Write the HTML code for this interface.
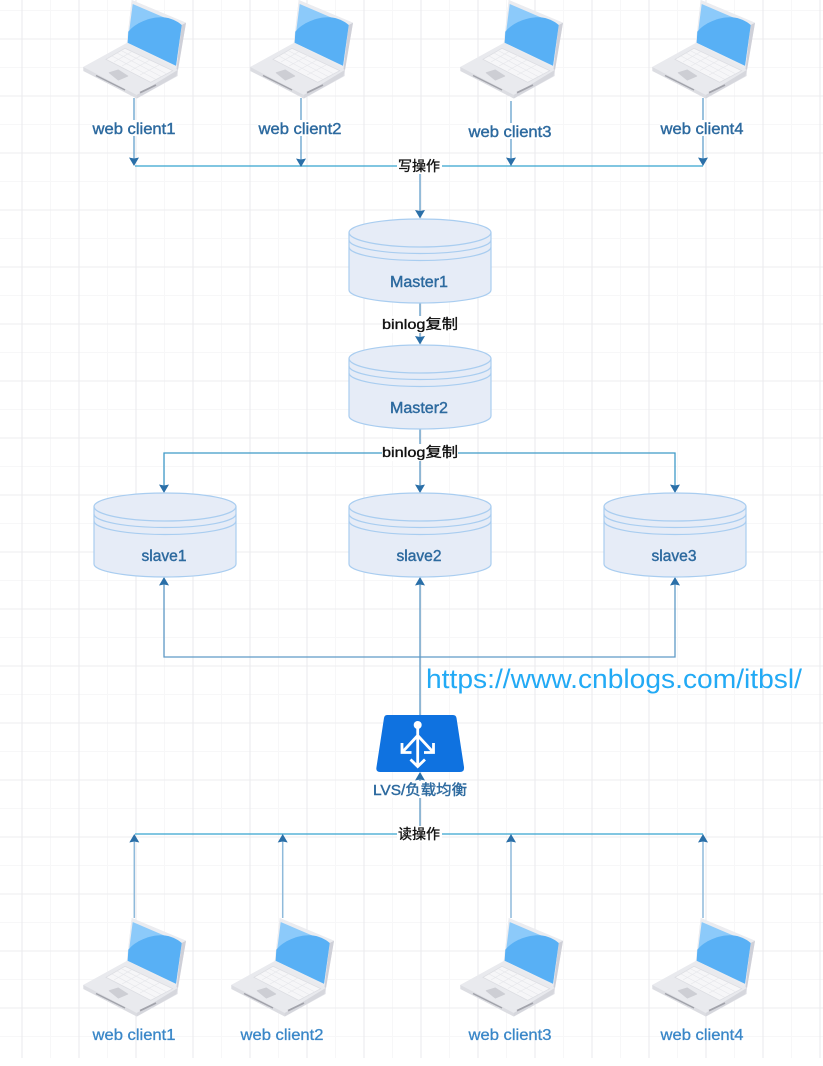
<!DOCTYPE html>
<html><head><meta charset="utf-8">
<style>html,body{margin:0;padding:0;background:#fff}svg{display:block}
text{font-family:"Liberation Sans","Noto Sans CJK SC",sans-serif}
.l{fill:#2d6a9f;font-size:15.5px;text-anchor:middle;stroke:#2d6a9f;stroke-width:.4}
.b{fill:#3a87c8;font-size:15.5px;text-anchor:middle;stroke:#3a87c8;stroke-width:.3}
.k{fill:#111;font-size:14px;text-anchor:middle;stroke:#111;stroke-width:.35}
</style></head><body>
<svg width="823" height="1066" viewBox="0 0 823 1066" xmlns="http://www.w3.org/2000/svg">
<defs>
<pattern id="g" x="21.500" y="38.500" width="57" height="57" patternUnits="userSpaceOnUse">
<path d="M29 0V57M0 29H57" stroke="#f7f7f8" stroke-width="1" fill="none"/>
<path d="M.5 0V57" stroke="#e9e9ec" stroke-width="1" fill="none"/>
<path d="M0 .5H57" stroke="#ececef" stroke-width="1" fill="none"/>
</pattern>
<g id="lap">
<path d="M83.300 67L127 43 131.700 0 186 22.700 178 68 177.700 76 137 98.500 83.300 71Z" fill="#e4e5ea"/>
<path d="M131.700 0L186 22.700 178 70 126.700 43Z" fill="#ebecf0"/>
<path d="M186 22.700L178 70 176.500 69 181.700 25Z" fill="#cfd0d8"/>
<path d="M132.700 4L181.700 25 176 65.700 127.700 42.700Z" fill="#8ccafa"/>
<path d="M128.300 31.700C136 22 152 16.500 163 17.300C171 18 177 21 181.700 25L176 65.700 127.700 42.700Z" fill="#58b0f5"/>
<path d="M83.300 67L126.700 43 177.700 70 136.700 95Z" fill="#e9eaee"/>
<path d="M83.300 67L136.700 95 136.700 98.500 83.500 71Z" fill="#dcdde2"/>
<path d="M136.700 95L177.700 70 176.500 76 136.700 98.500Z" fill="#d6d7dd"/>
<path d="M106 59.300L125 48.300 172.700 70.700 150.700 82.300Z" fill="#f6f6f8" stroke="#dcdde2" stroke-width=".8"/>
<path d="M112 56L156 79.500M117 53L161 76.500M121 50.500L166 73.500M114 62L132 51.500M122 66L141 55.500M131 70.500L150 60M140 75L159 65" stroke="#e6e7eb" stroke-width=".7" fill="none"/>
<path d="M109.300 72.700L118.300 70 127.700 76 118.300 80Z" fill="#cdced4" stroke="#cdced4" stroke-width="1" stroke-linejoin="round"/>
<path d="M96 75.500L125 90" stroke="#a2a3ab" stroke-width="1.500"/>
<path d="M140 92.700L156 85" stroke="#a2a3ab" stroke-width="1.800"/>
</g>
<g id="cyl">
<path d="M0 13.500A71 13.500 0 0 1 142 13.500V71A71 13 0 0 1 0 71Z" fill="#e6ecf7" stroke="#a9cdf0" stroke-width="1.200"/>
<path d="M0 13.500A71 14.500 0 0 0 142 13.500M0 21A71 13.500 0 0 0 142 21M0 28A71 13.500 0 0 0 142 28" fill="none" stroke="#a9cdf0" stroke-width="1.200"/>
</g>
<path id="ad" d="M-5 -8.500L0 -7.500 5 -8.500 0 0Z" fill="#2a6fa8"/>
<path id="au" d="M-5 8.500L0 7.500 5 8.500 0 0Z" fill="#2a6fa8"/>
</defs>
<rect x="0" y="0" width="823" height="1058" fill="url(#g)"/>

<g fill="none">
<path d="M134 98V160M301 98V160M511 101V160M703 98V160M420 166V212" stroke="#6fa7d0" stroke-width="1.400"/>
<path d="M135 166H703M135 834H703" stroke="#36a5cf" stroke-width="1.300"/>
<path d="M420 302V338M420 426V487" stroke="#5f9ac6" stroke-width="1.300"/>
<path d="M164 487V453H675V487" stroke="#3f9ac8" stroke-width="1.300"/>
<path d="M164 583V657H675V583M420 583V716" stroke="#5f9ac6" stroke-width="1.300"/>
<path d="M420 778V834" stroke="#5f9ac6" stroke-width="1.300"/>
<path d="M134.300 918V840M282.700 918V840M511 918V840M703 918V840" stroke="#8fbadb" stroke-width="1.500"/>
</g>
<use href="#ad" x="134" y="166"/><use href="#ad" x="301" y="167"/><use href="#ad" x="511" y="166"/><use href="#ad" x="703" y="166"/>
<use href="#ad" x="420" y="218.500"/><use href="#ad" x="420" y="344.500"/>
<use href="#ad" x="164" y="493"/><use href="#ad" x="420" y="493"/><use href="#ad" x="675" y="493"/>
<use href="#au" x="164" y="577"/><use href="#au" x="420" y="577"/><use href="#au" x="675" y="577"/>
<use href="#au" x="420" y="772"/>
<use href="#au" x="134.300" y="834"/><use href="#au" x="282.700" y="834"/><use href="#au" x="511" y="834"/><use href="#au" x="703" y="834"/>

<use href="#lap"/><use href="#lap" x="167"/><use href="#lap" x="377"/><use href="#lap" x="569"/>
<use href="#lap" y="918"/><use href="#lap" x="148" y="918"/><use href="#lap" x="377" y="918"/><use href="#lap" x="569" y="918"/>

<use href="#cyl" x="349" y="219"/><use href="#cyl" x="349" y="345"/>
<use href="#cyl" x="94" y="493"/><use href="#cyl" x="349" y="493"/><use href="#cyl" x="604" y="493"/>

<path d="M387 715H453Q456 715 456.500 718L464 767Q464.500 772 460 772H380Q375.500 772 376.500 767L384 718Q384.500 715 387 715Z" fill="#0f72e0"/>
<g stroke="#fff" stroke-width="2.800" fill="none">
<circle cx="417.700" cy="725" r="4" fill="#fff" stroke="none"/>
<path d="M417.700 728V766M417.700 735.500L402 752.500M417.700 735.500L433.500 752.500M410.500 759.500L417.700 766.500L425 759.500M402 743V752.500H411.500M433.500 743V752.500H424"/>
</g>

<g fill="#fff">
<rect x="92" y="120" width="84" height="16"/><rect x="258" y="120" width="84" height="16"/><rect x="468" y="123" width="84" height="16"/><rect x="660" y="120" width="84" height="16"/>
<rect x="397" y="158" width="45" height="16"/><rect x="382" y="316" width="76" height="17"/><rect x="382" y="444" width="76" height="17"/><rect x="397" y="826" width="45" height="16"/>
<rect x="372" y="781" width="95" height="17"/>
</g>

<g>
<text class="l" x="134" y="134" textLength="83" lengthAdjust="spacingAndGlyphs">web client1</text>
<text class="l" x="300" y="134" textLength="83" lengthAdjust="spacingAndGlyphs">web client2</text>
<text class="l" x="510" y="137" textLength="83" lengthAdjust="spacingAndGlyphs">web client3</text>
<text class="l" x="702" y="134" textLength="83" lengthAdjust="spacingAndGlyphs">web client4</text>
<text class="l" x="419" y="287" textLength="58" lengthAdjust="spacingAndGlyphs">Master1</text>
<text class="l" x="419" y="413" textLength="58" lengthAdjust="spacingAndGlyphs">Master2</text>
<text class="l" x="164" y="561" textLength="45" lengthAdjust="spacingAndGlyphs">slave1</text>
<text class="l" x="419" y="561" textLength="45" lengthAdjust="spacingAndGlyphs">slave2</text>
<text class="l" x="674" y="561" textLength="45" lengthAdjust="spacingAndGlyphs">slave3</text>
<text class="l" x="420" y="795" style="font-size:14.500px" textLength="94" lengthAdjust="spacingAndGlyphs">LVS/负载均衡</text>
<text class="b" x="134" y="1040" textLength="83" lengthAdjust="spacingAndGlyphs">web client1</text>
<text class="b" x="282" y="1040" textLength="83" lengthAdjust="spacingAndGlyphs">web client2</text>
<text class="b" x="510" y="1040" textLength="83" lengthAdjust="spacingAndGlyphs">web client3</text>
<text class="b" x="702" y="1040" textLength="83" lengthAdjust="spacingAndGlyphs">web client4</text>
<text class="k" x="419" y="171">写操作</text>
<text class="k" x="420" y="329" textLength="76" lengthAdjust="spacingAndGlyphs">binlog复制</text>
<text class="k" x="420" y="457" textLength="76" lengthAdjust="spacingAndGlyphs">binlog复制</text>
<text class="k" x="419" y="839">读操作</text>
<text x="426" y="688" font-size="27" fill="#22aaf5" textLength="376" lengthAdjust="spacingAndGlyphs">https://www.cnblogs.com/itbsl/</text>
</g>
</svg>
</body></html>
